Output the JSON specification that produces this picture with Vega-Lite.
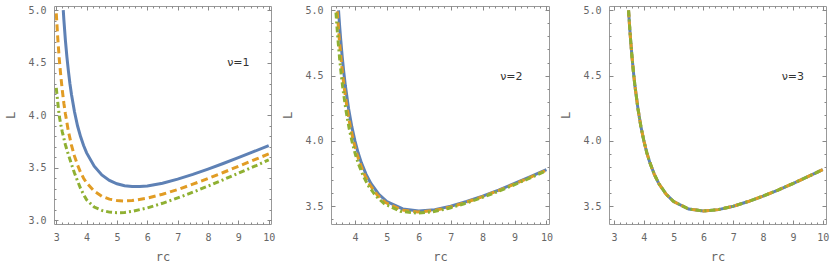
{
  "$schema": "https://vega.github.io/schema/vega-lite/v6.json",
  "background": "white",
  "padding": {"left": 4, "top": 4, "right": 0, "bottom": 0},
  "spacing": 60,
  "bounds": "flush",
  "config": {
    "view": {"stroke": "#999", "strokeWidth": 1},
    "axis": {
      "grid": false,
      "domain": false,
      "tickColor": "#888",
      "tickWidth": 1,
      "labelFont": "DejaVu Sans Mono",
      "labelFontSize": 10,
      "labelColor": "#666",
      "labelFlush": false,
      "labelOverlap": false,
      "labelPadding": 12,
      "titleFont": "DejaVu Sans Mono",
      "titleFontSize": 12,
      "titleFontWeight": "normal",
      "titleColor": "#666",
      "titlePadding": 9
    }
  },
  "datasets": {
    "sch": [
      {"r": 3.486, "L": 5.0}, {"r": 3.5, "L": 4.95}, {"r": 3.52, "L": 4.881}, {"r": 3.55, "L": 4.787},
      {"r": 3.6, "L": 4.648}, {"r": 3.65, "L": 4.527}, {"r": 3.7, "L": 4.422}, {"r": 3.8, "L": 4.249},
      {"r": 3.9, "L": 4.111}, {"r": 4.0, "L": 4.0}, {"r": 4.1, "L": 3.909}, {"r": 4.2, "L": 3.834},
      {"r": 4.35, "L": 3.744}, {"r": 4.5, "L": 3.674}, {"r": 4.75, "L": 3.591}, {"r": 5.0, "L": 3.536},
      {"r": 5.5, "L": 3.479}, {"r": 6.0, "L": 3.464}, {"r": 6.5, "L": 3.474}, {"r": 7.0, "L": 3.5},
      {"r": 7.5, "L": 3.536}, {"r": 8.0, "L": 3.578}, {"r": 8.5, "L": 3.624}, {"r": 9.0, "L": 3.674},
      {"r": 9.5, "L": 3.726}, {"r": 10.0, "L": 3.78}
    ],
    "p1": [
      {"s": "a", "r": 3.23, "L": 5.0}, {"s": "a", "r": 3.25, "L": 4.91}, {"s": "a", "r": 3.3, "L": 4.715},
      {"s": "a", "r": 3.35, "L": 4.555}, {"s": "a", "r": 3.4, "L": 4.42}, {"s": "a", "r": 3.45, "L": 4.3},
      {"s": "a", "r": 3.5, "L": 4.2}, {"s": "a", "r": 3.6, "L": 4.033}, {"s": "a", "r": 3.7, "L": 3.9},
      {"s": "a", "r": 3.8, "L": 3.797}, {"s": "a", "r": 3.9, "L": 3.712}, {"s": "a", "r": 4.0, "L": 3.642},
      {"s": "a", "r": 4.25, "L": 3.515}, {"s": "a", "r": 4.5, "L": 3.432}, {"s": "a", "r": 4.75, "L": 3.38},
      {"s": "a", "r": 5.0, "L": 3.348}, {"s": "a", "r": 5.25, "L": 3.33}, {"s": "a", "r": 5.5, "L": 3.322},
      {"s": "a", "r": 5.75, "L": 3.321}, {"s": "a", "r": 6.0, "L": 3.327}, {"s": "a", "r": 6.5, "L": 3.353},
      {"s": "a", "r": 7.0, "L": 3.392}, {"s": "a", "r": 7.5, "L": 3.437}, {"s": "a", "r": 8.0, "L": 3.488},
      {"s": "a", "r": 8.5, "L": 3.541}, {"s": "a", "r": 9.0, "L": 3.596}, {"s": "a", "r": 9.5, "L": 3.653},
      {"s": "a", "r": 10.0, "L": 3.711},
      {"s": "b", "r": 3.0, "L": 4.97}, {"s": "b", "r": 3.05, "L": 4.73}, {"s": "b", "r": 3.1, "L": 4.53},
      {"s": "b", "r": 3.15, "L": 4.37}, {"s": "b", "r": 3.2, "L": 4.234}, {"s": "b", "r": 3.25, "L": 4.115},
      {"s": "b", "r": 3.3, "L": 4.015}, {"s": "b", "r": 3.4, "L": 3.846}, {"s": "b", "r": 3.5, "L": 3.716},
      {"s": "b", "r": 3.6, "L": 3.611}, {"s": "b", "r": 3.7, "L": 3.527}, {"s": "b", "r": 3.8, "L": 3.457},
      {"s": "b", "r": 3.9, "L": 3.401}, {"s": "b", "r": 4.0, "L": 3.356}, {"s": "b", "r": 4.25, "L": 3.278},
      {"s": "b", "r": 4.5, "L": 3.229}, {"s": "b", "r": 4.75, "L": 3.202}, {"s": "b", "r": 5.0, "L": 3.188},
      {"s": "b", "r": 5.25, "L": 3.184}, {"s": "b", "r": 5.5, "L": 3.188}, {"s": "b", "r": 6.0, "L": 3.211},
      {"s": "b", "r": 6.5, "L": 3.248}, {"s": "b", "r": 7.0, "L": 3.293}, {"s": "b", "r": 7.5, "L": 3.344},
      {"s": "b", "r": 8.0, "L": 3.398}, {"s": "b", "r": 8.5, "L": 3.455}, {"s": "b", "r": 9.0, "L": 3.514},
      {"s": "b", "r": 9.5, "L": 3.573}, {"s": "b", "r": 10.0, "L": 3.632},
      {"s": "c", "r": 3.0, "L": 4.26}, {"s": "c", "r": 3.05, "L": 4.12}, {"s": "c", "r": 3.1, "L": 3.99},
      {"s": "c", "r": 3.15, "L": 3.91}, {"s": "c", "r": 3.2, "L": 3.84}, {"s": "c", "r": 3.3, "L": 3.72},
      {"s": "c", "r": 3.4, "L": 3.625}, {"s": "c", "r": 3.5, "L": 3.535}, {"s": "c", "r": 3.6, "L": 3.45},
      {"s": "c", "r": 3.7, "L": 3.375}, {"s": "c", "r": 3.8, "L": 3.305}, {"s": "c", "r": 3.9, "L": 3.245},
      {"s": "c", "r": 4.0, "L": 3.195}, {"s": "c", "r": 4.25, "L": 3.126}, {"s": "c", "r": 4.5, "L": 3.095},
      {"s": "c", "r": 4.75, "L": 3.078}, {"s": "c", "r": 5.0, "L": 3.072}, {"s": "c", "r": 5.25, "L": 3.075},
      {"s": "c", "r": 5.5, "L": 3.085}, {"s": "c", "r": 6.0, "L": 3.118}, {"s": "c", "r": 6.5, "L": 3.162},
      {"s": "c", "r": 7.0, "L": 3.213}, {"s": "c", "r": 7.5, "L": 3.268}, {"s": "c", "r": 8.0, "L": 3.326},
      {"s": "c", "r": 8.5, "L": 3.386}, {"s": "c", "r": 9.0, "L": 3.448}, {"s": "c", "r": 9.5, "L": 3.51},
      {"s": "c", "r": 10.0, "L": 3.575}
    ],
    "p2": [
      {"s": "b", "r": 3.446, "L": 4.992}, {"s": "b", "r": 3.46, "L": 4.942}, {"s": "b", "r": 3.48, "L": 4.873},
      {"s": "b", "r": 3.51, "L": 4.779}, {"s": "b", "r": 3.56, "L": 4.64}, {"s": "b", "r": 3.61, "L": 4.519},
      {"s": "b", "r": 3.66, "L": 4.414}, {"s": "b", "r": 3.76, "L": 4.241}, {"s": "b", "r": 3.86, "L": 4.103},
      {"s": "b", "r": 3.96, "L": 3.992}, {"s": "b", "r": 4.06, "L": 3.901}, {"s": "b", "r": 4.16, "L": 3.826},
      {"s": "b", "r": 4.31, "L": 3.736}, {"s": "b", "r": 4.46, "L": 3.666}, {"s": "b", "r": 4.71, "L": 3.583},
      {"s": "b", "r": 4.96, "L": 3.528}, {"s": "b", "r": 5.46, "L": 3.471}, {"s": "b", "r": 5.96, "L": 3.456},
      {"s": "b", "r": 6.46, "L": 3.466}, {"s": "b", "r": 6.96, "L": 3.492}, {"s": "b", "r": 7.46, "L": 3.528},
      {"s": "b", "r": 7.96, "L": 3.57}, {"s": "b", "r": 8.46, "L": 3.616}, {"s": "b", "r": 8.96, "L": 3.666},
      {"s": "b", "r": 9.46, "L": 3.718}, {"s": "b", "r": 9.96, "L": 3.772}, {"s": "b", "r": 10.0, "L": 3.776},
      {"s": "c", "r": 3.406, "L": 4.983}, {"s": "c", "r": 3.42, "L": 4.933}, {"s": "c", "r": 3.44, "L": 4.864},
      {"s": "c", "r": 3.47, "L": 4.77}, {"s": "c", "r": 3.52, "L": 4.631}, {"s": "c", "r": 3.57, "L": 4.51},
      {"s": "c", "r": 3.62, "L": 4.405}, {"s": "c", "r": 3.72, "L": 4.232}, {"s": "c", "r": 3.82, "L": 4.094},
      {"s": "c", "r": 3.92, "L": 3.983}, {"s": "c", "r": 4.02, "L": 3.892}, {"s": "c", "r": 4.12, "L": 3.817},
      {"s": "c", "r": 4.27, "L": 3.727}, {"s": "c", "r": 4.42, "L": 3.657}, {"s": "c", "r": 4.67, "L": 3.574},
      {"s": "c", "r": 4.92, "L": 3.519}, {"s": "c", "r": 5.42, "L": 3.462}, {"s": "c", "r": 5.92, "L": 3.447},
      {"s": "c", "r": 6.42, "L": 3.457}, {"s": "c", "r": 6.92, "L": 3.483}, {"s": "c", "r": 7.42, "L": 3.519},
      {"s": "c", "r": 7.92, "L": 3.561}, {"s": "c", "r": 8.42, "L": 3.607}, {"s": "c", "r": 8.92, "L": 3.657},
      {"s": "c", "r": 9.42, "L": 3.709}, {"s": "c", "r": 9.92, "L": 3.763}, {"s": "c", "r": 10.0, "L": 3.772}
    ]
  },
  "hconcat": [
    {
      "width": 217,
      "height": 218,
      "resolve": {"axis": {"x": "independent", "y": "independent"}},
      "layer": [
        {
          "data": {"name": "p1"},
          "transform": [{"filter": "datum.s == 'a'"}],
          "mark": {"type": "line", "color": "#5E81B5", "strokeWidth": 3, "clip": true},
          "encoding": {
            "x": {"field": "r", "type": "quantitative", "scale": {"domain": [2.925, 10.075], "nice": false, "zero": false},
                  "axis": {"orient": "bottom", "values": [3, 4, 5, 6, 7, 8, 9, 10], "format": "d", "tickSize": -4, "title": "rc"}},
            "y": {"field": "L", "type": "quantitative", "scale": {"domain": [2.965, 5.04], "nice": false, "zero": false},
                  "axis": {"orient": "left", "values": [3, 3.5, 4, 4.5, 5], "format": ".1f", "tickSize": -4, "title": "L", "titlePadding": 10}}
          }
        },
        {
          "data": {"name": "p1"},
          "transform": [{"filter": "datum.s == 'b'"}],
          "mark": {"type": "line", "color": "#E19C24", "strokeWidth": 3, "strokeDash": [7, 4], "clip": true},
          "encoding": {
            "x": {"field": "r", "type": "quantitative", "scale": {"domain": [2.925, 10.075], "nice": false, "zero": false},
                  "axis": {"orient": "bottom", "values": [3, 3.2, 3.4, 3.6, 3.8, 4, 4.2, 4.4, 4.6, 4.8, 5, 5.2, 5.4, 5.6, 5.8, 6, 6.2, 6.4, 6.6, 6.8, 7, 7.2, 7.4, 7.6, 7.8, 8, 8.2, 8.4, 8.6, 8.8, 9, 9.2, 9.4, 9.6, 9.8, 10], "labels": false, "tickSize": -2, "title": null}},
            "y": {"field": "L", "type": "quantitative", "scale": {"domain": [2.965, 5.04], "nice": false, "zero": false},
                  "axis": {"orient": "left", "values": [3, 3.1, 3.2, 3.3, 3.4, 3.5, 3.6, 3.7, 3.8, 3.9, 4, 4.1, 4.2, 4.3, 4.4, 4.5, 4.6, 4.7, 4.8, 4.9, 5], "labels": false, "tickSize": -2, "title": null}}
          }
        },
        {
          "data": {"name": "p1"},
          "transform": [{"filter": "datum.s == 'c'"}],
          "mark": {"type": "line", "color": "#8FB032", "strokeWidth": 3, "strokeDash": [6, 3, 2, 3], "clip": true},
          "encoding": {
            "x": {"field": "r", "type": "quantitative", "scale": {"domain": [2.925, 10.075], "nice": false, "zero": false},
                  "axis": {"orient": "top", "values": [3, 4, 5, 6, 7, 8, 9, 10], "labels": false, "tickSize": -4, "title": null}},
            "y": {"field": "L", "type": "quantitative", "scale": {"domain": [2.965, 5.04], "nice": false, "zero": false},
                  "axis": {"orient": "right", "values": [3, 3.5, 4, 4.5, 5], "labels": false, "tickSize": -4, "title": null}}
          }
        },
        {
          "data": {"values": [{"r": 9.0, "L": 4.5, "t": "ν=1"}]},
          "mark": {"type": "text", "font": "DejaVu Sans", "fontSize": 11, "color": "#333"},
          "encoding": {
            "text": {"field": "t"},
            "x": {"field": "r", "type": "quantitative", "scale": {"domain": [2.925, 10.075], "nice": false, "zero": false},
                  "axis": {"orient": "top", "values": [3, 3.2, 3.4, 3.6, 3.8, 4, 4.2, 4.4, 4.6, 4.8, 5, 5.2, 5.4, 5.6, 5.8, 6, 6.2, 6.4, 6.6, 6.8, 7, 7.2, 7.4, 7.6, 7.8, 8, 8.2, 8.4, 8.6, 8.8, 9, 9.2, 9.4, 9.6, 9.8, 10], "labels": false, "tickSize": -2, "title": null}},
            "y": {"field": "L", "type": "quantitative", "scale": {"domain": [2.965, 5.04], "nice": false, "zero": false},
                  "axis": {"orient": "right", "values": [3, 3.1, 3.2, 3.3, 3.4, 3.5, 3.6, 3.7, 3.8, 3.9, 4, 4.1, 4.2, 4.3, 4.4, 4.5, 4.6, 4.7, 4.8, 4.9, 5], "labels": false, "tickSize": -2, "title": null}}
          }
        }
      ]
    },
    {
      "width": 218,
      "height": 218,
      "resolve": {"axis": {"x": "independent", "y": "independent"}},
      "layer": [
        {
          "data": {"name": "sch"},
          "mark": {"type": "line", "color": "#5E81B5", "strokeWidth": 3, "clip": true},
          "encoding": {
            "x": {"field": "r", "type": "quantitative", "scale": {"domain": [3.25, 10.08], "nice": false, "zero": false},
                  "axis": {"orient": "bottom", "values": [4, 5, 6, 7, 8, 9, 10], "format": "d", "tickSize": -4, "title": "rc"}},
            "y": {"field": "L", "type": "quantitative", "scale": {"domain": [3.364, 5.033], "nice": false, "zero": false},
                  "axis": {"orient": "left", "values": [3.5, 4, 4.5, 5], "format": ".1f", "tickSize": -4, "title": "L", "titlePadding": 10}}
          }
        },
        {
          "data": {"name": "p2"},
          "transform": [{"filter": "datum.s == 'b'"}],
          "mark": {"type": "line", "color": "#E19C24", "strokeWidth": 3, "strokeDash": [7, 4], "clip": true},
          "encoding": {
            "x": {"field": "r", "type": "quantitative", "scale": {"domain": [3.25, 10.08], "nice": false, "zero": false},
                  "axis": {"orient": "bottom", "values": [3.4, 3.6, 3.8, 4, 4.2, 4.4, 4.6, 4.8, 5, 5.2, 5.4, 5.6, 5.8, 6, 6.2, 6.4, 6.6, 6.8, 7, 7.2, 7.4, 7.6, 7.8, 8, 8.2, 8.4, 8.6, 8.8, 9, 9.2, 9.4, 9.6, 9.8, 10], "labels": false, "tickSize": -2, "title": null}},
            "y": {"field": "L", "type": "quantitative", "scale": {"domain": [3.364, 5.033], "nice": false, "zero": false},
                  "axis": {"orient": "left", "values": [3.4, 3.5, 3.6, 3.7, 3.8, 3.9, 4, 4.1, 4.2, 4.3, 4.4, 4.5, 4.6, 4.7, 4.8, 4.9, 5], "labels": false, "tickSize": -2, "title": null}}
          }
        },
        {
          "data": {"name": "p2"},
          "transform": [{"filter": "datum.s == 'c'"}],
          "mark": {"type": "line", "color": "#8FB032", "strokeWidth": 3, "strokeDash": [6, 3, 2, 3], "clip": true},
          "encoding": {
            "x": {"field": "r", "type": "quantitative", "scale": {"domain": [3.25, 10.08], "nice": false, "zero": false},
                  "axis": {"orient": "top", "values": [4, 5, 6, 7, 8, 9, 10], "labels": false, "tickSize": -4, "title": null}},
            "y": {"field": "L", "type": "quantitative", "scale": {"domain": [3.364, 5.033], "nice": false, "zero": false},
                  "axis": {"orient": "right", "values": [3.5, 4, 4.5, 5], "labels": false, "tickSize": -4, "title": null}}
          }
        },
        {
          "data": {"values": [{"r": 8.9, "L": 4.49, "t": "ν=2"}]},
          "mark": {"type": "text", "font": "DejaVu Sans", "fontSize": 11, "color": "#333"},
          "encoding": {
            "text": {"field": "t"},
            "x": {"field": "r", "type": "quantitative", "scale": {"domain": [3.25, 10.08], "nice": false, "zero": false},
                  "axis": {"orient": "top", "values": [3.4, 3.6, 3.8, 4, 4.2, 4.4, 4.6, 4.8, 5, 5.2, 5.4, 5.6, 5.8, 6, 6.2, 6.4, 6.6, 6.8, 7, 7.2, 7.4, 7.6, 7.8, 8, 8.2, 8.4, 8.6, 8.8, 9, 9.2, 9.4, 9.6, 9.8, 10], "labels": false, "tickSize": -2, "title": null}},
            "y": {"field": "L", "type": "quantitative", "scale": {"domain": [3.364, 5.033], "nice": false, "zero": false},
                  "axis": {"orient": "right", "values": [3.4, 3.5, 3.6, 3.7, 3.8, 3.9, 4, 4.1, 4.2, 4.3, 4.4, 4.5, 4.6, 4.7, 4.8, 4.9, 5], "labels": false, "tickSize": -2, "title": null}}
          }
        }
      ]
    },
    {
      "width": 217,
      "height": 218,
      "resolve": {"axis": {"x": "independent", "y": "independent"}},
      "layer": [
        {
          "data": {"name": "sch"},
          "mark": {"type": "line", "color": "#5E81B5", "strokeWidth": 3, "clip": true},
          "encoding": {
            "x": {"field": "r", "type": "quantitative", "scale": {"domain": [2.83, 10.11], "nice": false, "zero": false},
                  "axis": {"orient": "bottom", "values": [3, 4, 5, 6, 7, 8, 9, 10], "format": "d", "tickSize": -4, "title": "rc"}},
            "y": {"field": "L", "type": "quantitative", "scale": {"domain": [3.364, 5.033], "nice": false, "zero": false},
                  "axis": {"orient": "left", "values": [3.5, 4, 4.5, 5], "format": ".1f", "tickSize": -4, "title": "L", "titlePadding": 10}}
          }
        },
        {
          "data": {"name": "sch"},
          "mark": {"type": "line", "color": "#E19C24", "strokeWidth": 3, "strokeDash": [7, 4], "clip": true},
          "encoding": {
            "x": {"field": "r", "type": "quantitative", "scale": {"domain": [2.83, 10.11], "nice": false, "zero": false},
                  "axis": {"orient": "bottom", "values": [3, 3.2, 3.4, 3.6, 3.8, 4, 4.2, 4.4, 4.6, 4.8, 5, 5.2, 5.4, 5.6, 5.8, 6, 6.2, 6.4, 6.6, 6.8, 7, 7.2, 7.4, 7.6, 7.8, 8, 8.2, 8.4, 8.6, 8.8, 9, 9.2, 9.4, 9.6, 9.8, 10], "labels": false, "tickSize": -2, "title": null}},
            "y": {"field": "L", "type": "quantitative", "scale": {"domain": [3.364, 5.033], "nice": false, "zero": false},
                  "axis": {"orient": "left", "values": [3.4, 3.5, 3.6, 3.7, 3.8, 3.9, 4, 4.1, 4.2, 4.3, 4.4, 4.5, 4.6, 4.7, 4.8, 4.9, 5], "labels": false, "tickSize": -2, "title": null}}
          }
        },
        {
          "data": {"name": "sch"},
          "mark": {"type": "line", "color": "#8FB032", "strokeWidth": 3, "strokeDash": [6, 3, 2, 3], "clip": true},
          "encoding": {
            "x": {"field": "r", "type": "quantitative", "scale": {"domain": [2.83, 10.11], "nice": false, "zero": false},
                  "axis": {"orient": "top", "values": [3, 4, 5, 6, 7, 8, 9, 10], "labels": false, "tickSize": -4, "title": null}},
            "y": {"field": "L", "type": "quantitative", "scale": {"domain": [3.364, 5.033], "nice": false, "zero": false},
                  "axis": {"orient": "right", "values": [3.5, 4, 4.5, 5], "labels": false, "tickSize": -4, "title": null}}
          }
        },
        {
          "data": {"values": [{"r": 9.0, "L": 4.49, "t": "ν=3"}]},
          "mark": {"type": "text", "font": "DejaVu Sans", "fontSize": 11, "color": "#333"},
          "encoding": {
            "text": {"field": "t"},
            "x": {"field": "r", "type": "quantitative", "scale": {"domain": [2.83, 10.11], "nice": false, "zero": false},
                  "axis": {"orient": "top", "values": [3, 3.2, 3.4, 3.6, 3.8, 4, 4.2, 4.4, 4.6, 4.8, 5, 5.2, 5.4, 5.6, 5.8, 6, 6.2, 6.4, 6.6, 6.8, 7, 7.2, 7.4, 7.6, 7.8, 8, 8.2, 8.4, 8.6, 8.8, 9, 9.2, 9.4, 9.6, 9.8, 10], "labels": false, "tickSize": -2, "title": null}},
            "y": {"field": "L", "type": "quantitative", "scale": {"domain": [3.364, 5.033], "nice": false, "zero": false},
                  "axis": {"orient": "right", "values": [3.4, 3.5, 3.6, 3.7, 3.8, 3.9, 4, 4.1, 4.2, 4.3, 4.4, 4.5, 4.6, 4.7, 4.8, 4.9, 5], "labels": false, "tickSize": -2, "title": null}}
          }
        }
      ]
    }
  ]
}
